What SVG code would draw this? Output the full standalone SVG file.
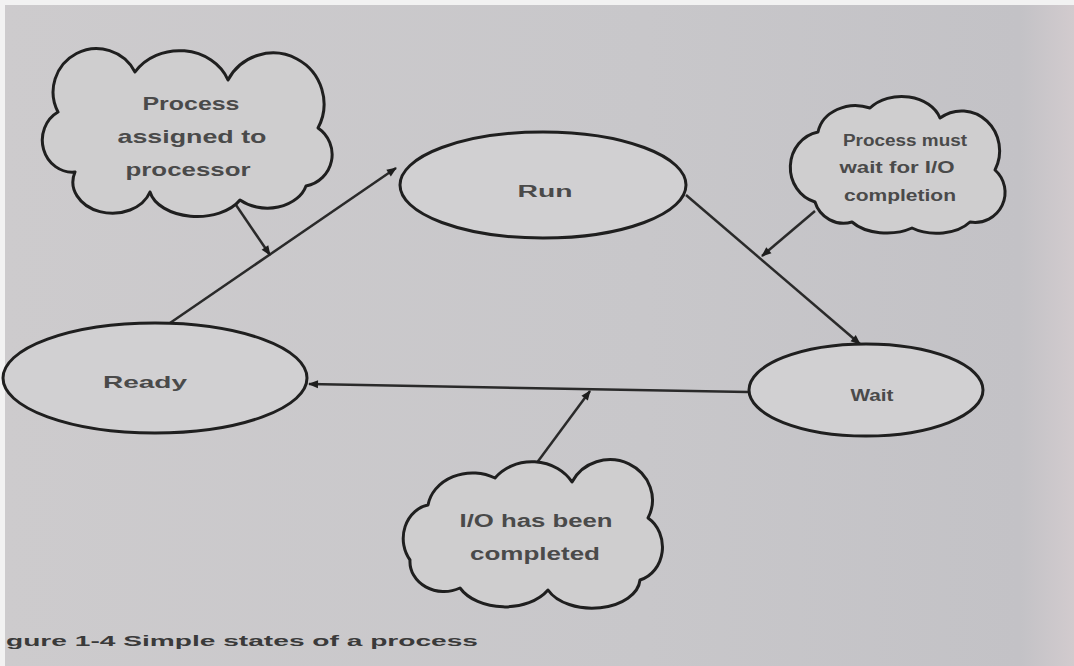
<svg xmlns="http://www.w3.org/2000/svg" width="1074" height="666" viewBox="0 0 1074 666">
<defs>
<linearGradient id="bg" x1="0" y1="0" x2="1" y2="0">
<stop offset="0" stop-color="#cdcbcd"/>
<stop offset="0.6" stop-color="#c8c7ca"/>
<stop offset="0.95" stop-color="#c3c2c6"/>
<stop offset="1" stop-color="#d2cbce"/>
</linearGradient>
<marker id="ah" viewBox="0 0 10 10" refX="9" refY="5" markerWidth="14" markerHeight="10" markerUnits="userSpaceOnUse" orient="auto">
<path d="M0,1 L10,5 L0,9 Z" fill="#1e1e1e"/>
</marker>
<style>
.node{fill:#d1d0d2;stroke:#1f1f1f;stroke-width:3}
.cloud{fill:#cfcecf;stroke:#1f1f1f;stroke-width:3;stroke-linejoin:round}
.edge{fill:none;stroke:#2a2a2a;stroke-width:2.5;marker-end:url(#ah)}
.lbl{font-family:"Liberation Sans",Arial,sans-serif;font-weight:bold;fill:#4a4a4a;text-anchor:middle}
</style>
</defs>
<rect x="0" y="0" width="1074" height="666" fill="url(#bg)"/>
<rect x="0" y="0" width="1074" height="5" fill="#f2f2f2"/>
<rect x="0" y="0" width="5" height="666" fill="#f2f2f2"/>

<g id="connectors">
<line class="edge" x1="170" y1="323" x2="396" y2="168"/>
<line class="edge" x1="686" y1="195" x2="860" y2="344"/>
<line class="edge" x1="748" y1="392" x2="309" y2="384"/>
<line class="edge" x1="236" y1="205" x2="270" y2="255"/>
<line class="edge" x1="815" y1="211" x2="762" y2="256"/>
<line class="edge" x1="536" y1="464" x2="590" y2="391"/>
</g>

<g id="run">
<ellipse class="node" cx="543" cy="185" rx="143" ry="53"/>
<text class="lbl" x="545" y="197" font-size="16" textLength="55" lengthAdjust="spacingAndGlyphs">Run</text>
</g>
<g id="ready">
<ellipse class="node" cx="155" cy="378" rx="152" ry="55"/>
<text class="lbl" x="145" y="388" font-size="17" textLength="84" lengthAdjust="spacingAndGlyphs">Ready</text>
</g>
<g id="wait">
<ellipse class="node" cx="866" cy="390" rx="117" ry="46"/>
<text class="lbl" x="872" y="401" font-size="16" textLength="43" lengthAdjust="spacingAndGlyphs">Wait</text>
</g>

<g id="cloud-assigned">
<path class="cloud" d="M58,112 A42,42 0 0 1 135,72 A52,45 0 0 1 228,80 A45,45 0 0 1 318,128 A32,32 0 0 1 306,186 A40,30 0 0 1 240,200 A48,30 0 0 1 150,192 A38,30 0 0 1 75,172 A30,32 0 0 1 58,112 Z"/>
<text class="lbl" x="191" y="110" font-size="19" textLength="97" lengthAdjust="spacingAndGlyphs">Process</text>
<text class="lbl" x="192" y="143" font-size="19" textLength="149" lengthAdjust="spacingAndGlyphs">assigned to</text>
<text class="lbl" x="188" y="176" font-size="19" textLength="125" lengthAdjust="spacingAndGlyphs">processor</text>
</g>

<g id="cloud-wait">
<path class="cloud" d="M818,132 A38,32 0 0 1 870,108 A40,30 0 0 1 940,118 A38,40 0 0 1 995,170 A30,30 0 0 1 970,222 A40,25 0 0 1 912,228 A42,25 0 0 1 852,222 A30,30 0 0 1 815,202 A34,36 0 0 1 818,132 Z"/>
<text class="lbl" x="905" y="146" font-size="16" textLength="124" lengthAdjust="spacingAndGlyphs">Process must</text>
<text class="lbl" x="897" y="173" font-size="16" textLength="115" lengthAdjust="spacingAndGlyphs">wait for I/O</text>
<text class="lbl" x="900" y="201" font-size="16" textLength="112" lengthAdjust="spacingAndGlyphs">completion</text>
</g>

<g id="cloud-io">
<path class="cloud" d="M428,505 A45,38 0 0 1 495,478 A46,40 0 0 1 572,482 A42,40 0 0 1 648,518 A30,34 0 0 1 640,580 A48,30 0 0 1 548,590 A50,34 0 0 1 460,588 A34,30 0 0 1 410,560 A30,34 0 0 1 428,505 Z"/>
<text class="lbl" x="536" y="527" font-size="18" textLength="153" lengthAdjust="spacingAndGlyphs">I/O has been</text>
<text class="lbl" x="535" y="560" font-size="18" textLength="130" lengthAdjust="spacingAndGlyphs">completed</text>
</g>

<text x="6" y="646" font-family="Liberation Sans,Arial,sans-serif" font-weight="bold" font-size="15" fill="#3a3a3a" textLength="472" lengthAdjust="spacingAndGlyphs">gure 1-4  Simple states of a process</text>
</svg>
